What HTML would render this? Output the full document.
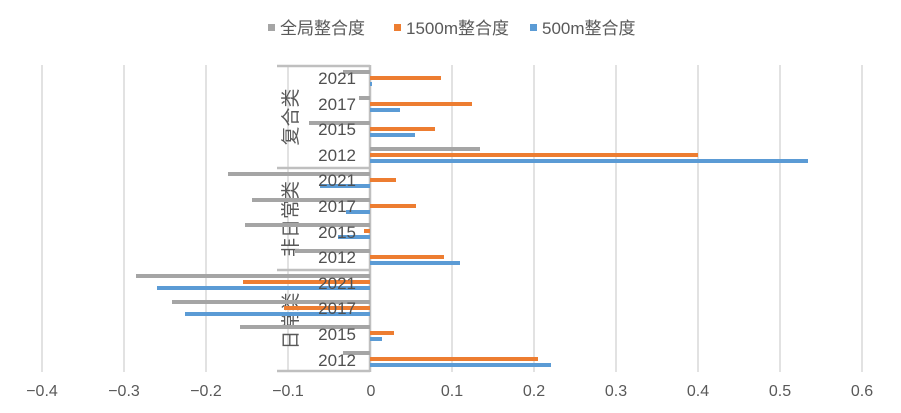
<!DOCTYPE html>
<html><head><meta charset="utf-8"><style>
html,body{margin:0;padding:0;background:#fff;}
svg{display:block;font-family:"Liberation Sans","Noto Sans CJK SC",sans-serif;}
</style></head><body>
<svg width="901" height="413" viewBox="0 0 901 413" xmlns="http://www.w3.org/2000/svg">
<rect width="901" height="413" fill="#fff"/>
<rect x="268" y="24" width="7" height="7" fill="#a5a5a5"/>
<text x="280" y="34" font-size="17" fill="#595959">全局整合度</text>
<rect x="394" y="24" width="7" height="7" fill="#ed7d31"/>
<text x="406" y="34" font-size="17" fill="#595959">1500m整合度</text>
<rect x="530" y="24" width="7" height="7" fill="#5b9bd5"/>
<text x="542" y="34" font-size="17" fill="#595959">500m整合度</text>
<g stroke="#d9d9d9" stroke-width="1.5">
<line x1="42" y1="65" x2="42" y2="372"/>
<line x1="124" y1="65" x2="124" y2="372"/>
<line x1="206" y1="65" x2="206" y2="372"/>
<line x1="288" y1="65" x2="288" y2="372"/>
<line x1="452" y1="65" x2="452" y2="372"/>
<line x1="534" y1="65" x2="534" y2="372"/>
<line x1="616" y1="65" x2="616" y2="372"/>
<line x1="698" y1="65" x2="698" y2="372"/>
<line x1="780" y1="65" x2="780" y2="372"/>
<line x1="862" y1="65" x2="862" y2="372"/>
</g>
<g stroke="#bfbfbf" stroke-width="2.5" fill="none">
<line x1="370" y1="65" x2="370" y2="372"/>
<line x1="277" y1="66" x2="370" y2="66"/>
<line x1="277" y1="168" x2="370" y2="168"/>
<line x1="277" y1="270" x2="370" y2="270"/>
<line x1="277" y1="371" x2="370" y2="371"/>
</g>
<g font-size="19" fill="#595959" text-anchor="middle">
<text transform="translate(297,117) rotate(-90)">复合类</text>
<text transform="translate(297,219) rotate(-90)">非日常类</text>
<text transform="translate(297,321) rotate(-90)">日常类</text>
</g>
<g>
<rect x="343" y="70" width="27" height="4" fill="#a5a5a5"/>
<rect x="370" y="76" width="71" height="4" fill="#ed7d31"/>
<rect x="370" y="82" width="2" height="4" fill="#5b9bd5"/>
<rect x="359" y="96" width="11" height="4" fill="#a5a5a5"/>
<rect x="370" y="102" width="102" height="4" fill="#ed7d31"/>
<rect x="370" y="108" width="30" height="4" fill="#5b9bd5"/>
<rect x="309" y="121" width="61" height="4" fill="#a5a5a5"/>
<rect x="370" y="127" width="65" height="4" fill="#ed7d31"/>
<rect x="370" y="133" width="45" height="4" fill="#5b9bd5"/>
<rect x="370" y="147" width="110" height="4" fill="#a5a5a5"/>
<rect x="370" y="153" width="328" height="4" fill="#ed7d31"/>
<rect x="370" y="159" width="438" height="4" fill="#5b9bd5"/>
<rect x="228" y="172" width="142" height="4" fill="#a5a5a5"/>
<rect x="370" y="178" width="26" height="4" fill="#ed7d31"/>
<rect x="320" y="184" width="50" height="4" fill="#5b9bd5"/>
<rect x="252" y="198" width="118" height="4" fill="#a5a5a5"/>
<rect x="370" y="204" width="46" height="4" fill="#ed7d31"/>
<rect x="346" y="210" width="24" height="4" fill="#5b9bd5"/>
<rect x="245" y="223" width="125" height="4" fill="#a5a5a5"/>
<rect x="364" y="229" width="6" height="4" fill="#ed7d31"/>
<rect x="338" y="235" width="32" height="4" fill="#5b9bd5"/>
<rect x="295" y="249" width="75" height="4" fill="#a5a5a5"/>
<rect x="370" y="255" width="74" height="4" fill="#ed7d31"/>
<rect x="370" y="261" width="90" height="4" fill="#5b9bd5"/>
<rect x="136" y="274" width="234" height="4" fill="#a5a5a5"/>
<rect x="243" y="280" width="127" height="4" fill="#ed7d31"/>
<rect x="157" y="286" width="213" height="4" fill="#5b9bd5"/>
<rect x="172" y="300" width="198" height="4" fill="#a5a5a5"/>
<rect x="284" y="306" width="86" height="4" fill="#ed7d31"/>
<rect x="185" y="312" width="185" height="4" fill="#5b9bd5"/>
<rect x="240" y="325" width="130" height="4" fill="#a5a5a5"/>
<rect x="370" y="331" width="24" height="4" fill="#ed7d31"/>
<rect x="370" y="337" width="12" height="4" fill="#5b9bd5"/>
<rect x="343" y="351" width="27" height="4" fill="#a5a5a5"/>
<rect x="370" y="357" width="168" height="4" fill="#ed7d31"/>
<rect x="370" y="363" width="181" height="4" fill="#5b9bd5"/>
</g>
<g font-size="17" fill="#505050" text-anchor="end">
<text x="356" y="84">2021</text>
<text x="356" y="110">2017</text>
<text x="356" y="135">2015</text>
<text x="356" y="161">2012</text>
<text x="356" y="186">2021</text>
<text x="356" y="212">2017</text>
<text x="356" y="238">2015</text>
<text x="356" y="263">2012</text>
<text x="356" y="289">2021</text>
<text x="356" y="314">2017</text>
<text x="356" y="340">2015</text>
<text x="356" y="366">2012</text>
</g>
<g font-size="16" fill="#595959" text-anchor="middle">
<text x="42" y="396">−0.4</text>
<text x="124" y="396">−0.3</text>
<text x="206" y="396">−0.2</text>
<text x="288" y="396">−0.1</text>
<text x="371" y="396">0</text>
<text x="452" y="396">0.1</text>
<text x="534" y="396">0.2</text>
<text x="616" y="396">0.3</text>
<text x="698" y="396">0.4</text>
<text x="780" y="396">0.5</text>
<text x="862" y="396">0.6</text>
</g>
</svg>
</body></html>
